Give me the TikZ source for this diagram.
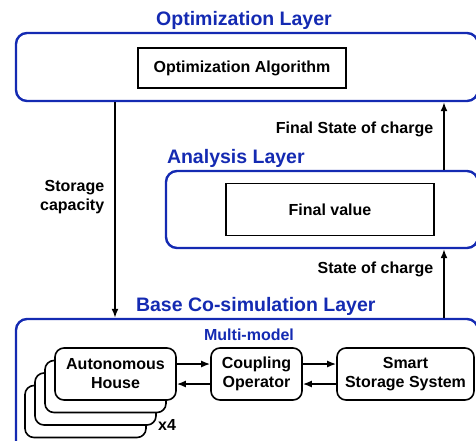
\documentclass[tikz,border=0pt]{standalone}
\usepackage{fontspec}
\setmainfont{Liberation Sans}
\usetikzlibrary{positioning}
\usetikzlibrary{arrows.meta}
\definecolor{layerblue}{RGB}{20,42,178}

\begin{document}
\begin{tikzpicture}[
    x=1pt, y=-1pt,
    every node/.style={font=\bfseries\fontsize{16}{19}\selectfont},
    layerbox/.style={draw=layerblue, line width=2.4pt, rounded corners=11pt, minimum height=68pt, inner sep=0},
    ltitle/.style={text=layerblue, font=\bfseries\fontsize{19.5}{23}\selectfont, inner sep=0},
    tbox/.style={draw, line width=1.6pt, inner sep=0},
    mbox/.style={draw, fill=white, line width=1.6pt, rounded corners=9pt, align=center, inner sep=0, minimum height=52pt},
    flow/.style={-{Latex[length=9pt,width=7pt]}, line width=1.6pt},
    lbl/.style={align=right, inner sep=0}
]
\useasboundingbox (0,0) rectangle (476,440);

% Optimization Layer
\node[layerbox, minimum width=462pt, minimum height=68pt] (optlayer) at (247,67) {};
\node[ltitle, above=2.5pt of optlayer.north, xshift=-3pt] (opttitle) {Optimization Layer};
\node[tbox, minimum width=208pt, minimum height=40pt] (optalg) at (242,68) {Optimization Algorithm};

% Analysis Layer
\node[layerbox, minimum width=312pt, minimum height=77pt] (analysis) at (322,209.5) {};
\node[ltitle, above right=2.5pt and 2pt of analysis.north west] (antitle) {Analysis Layer};
\node[tbox, minimum width=208pt, minimum height=52pt] (finalval) at (330,209.5) {Final value};

% Base Co-simulation Layer
\node[layerbox, minimum width=462pt, minimum height=140pt] (baselayer) at (247,389) {};
\node[ltitle, above right=2pt and 121pt of baselayer.north west] (basetitle) {Base Co-simulation Layer};
\node[text=layerblue, inner sep=0] (multimodel) at (249,335) {Multi-model};

% Multi-model
\foreach \i in {3,2,1}
    \node[mbox, minimum width=121pt] (house\i) at (115.5-10*\i, 374+12.5*\i) {};
\node[mbox, minimum width=121pt] (house) at (115.5,374) {Autonomous\\House};
\node[inner sep=0] (copies) at (167,425) {x4};
\node[mbox, minimum width=91pt] (coupling) at (256.5,374) {Coupling\\Operator};
\node[mbox, minimum width=137pt] (storage) at (405.5,374) {Smart\\Storage System};

\draw[flow] ([yshift=10pt]house.east) -- ([yshift=10pt]coupling.west);
\draw[flow] ([yshift=-10pt]coupling.west) -- ([yshift=-10pt]house.east);
\draw[flow] ([yshift=10pt]coupling.east) -- ([yshift=10pt]storage.west);
\draw[flow] ([yshift=-10pt]storage.west) -- ([yshift=-10pt]coupling.east);

% between layers
\coordinate (capx) at (115,0);
\coordinate (socx) at (444,0);
\draw[flow] (capx |- optlayer.south) -- (capx |- baselayer.north)
    node[lbl, pos=0.44, left=10pt] {Storage\\capacity};
\draw[flow] (socx |- baselayer.north) -- (socx |- analysis.south)
    node[lbl, pos=0.7, left=10pt] {State of charge};
\draw[flow] (socx |- analysis.north) -- (socx |- optlayer.south)
    node[lbl, pos=0.6, left=10pt] {Final State of charge};

\end{tikzpicture}
\end{document}
